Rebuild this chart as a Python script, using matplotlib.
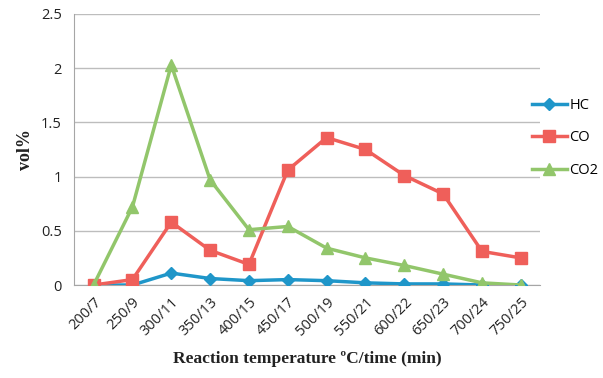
import matplotlib
matplotlib.use("Agg")
import matplotlib.pyplot as plt

categories = ['200/7', '250/9', '300/11', '350/13', '400/15', '450/17',
              '500/19', '550/21', '600/22', '650/23', '700/24', '750/25']
hc = [0, 0, 0.11, 0.06, 0.04, 0.05, 0.04, 0.02, 0.01, 0.01, 0.0, 0.0]
co = [0, 0.05, 0.58, 0.32, 0.19, 1.06, 1.36, 1.25, 1.01, 0.84, 0.31, 0.25]
co2 = [0, 0.72, 2.03, 0.97, 0.51, 0.54, 0.34, 0.25, 0.18, 0.10, 0.02, 0.0]

fig = plt.figure(figsize=(6.03, 3.78), dpi=100)
ax = fig.add_axes([0.123, 0.246, 0.773, 0.717])

x = range(len(categories))
ax.plot(x, hc, color='#1f96c9', lw=2.5, marker='D', ms=6, label='HC', zorder=3)
ax.plot(x, co, color='#ef5f5a', lw=2.5, marker='s', ms=9, label='CO', zorder=4)
ax.plot(x, co2, color='#92c66b', lw=2.5, marker='^', ms=9, label='CO2', zorder=5)

ax.set_xlim(-0.5, len(categories) - 0.5)
ax.set_ylim(0, 2.5)
ax.set_yticks([0, 0.5, 1, 1.5, 2, 2.5])
ax.set_yticklabels(['0', '0.5', '1', '1.5', '2', '2.5'])
ax.set_xticks(list(x))
ax.set_xticklabels(categories, rotation=45, ha='right', rotation_mode='anchor')

ax.grid(axis='y', color='#bdbdbd', lw=1)
ax.set_axisbelow(True)
for s in ['top', 'right']:
    ax.spines[s].set_visible(False)
for s in ['left', 'bottom']:
    ax.spines[s].set_color('#a6a6a6')
ax.tick_params(axis='both', length=0, labelsize=10.5, colors='#222222')
ax.tick_params(axis='x', pad=7)
ax.tick_params(axis='y', pad=9)
for lab in ax.get_xticklabels() + ax.get_yticklabels():
    lab.set_family('Open Sans')

ax.set_xlabel('Reaction temperature ºC/time (min)', family='Liberation Serif',
              fontweight='bold', fontsize=12.5, color='#222222', labelpad=9)
ax.set_ylabel('vol%', family='Liberation Serif', fontweight='bold',
              fontsize=13, color='#222222', labelpad=5)

fig.legend(*ax.get_legend_handles_labels(), loc='center left',
           bbox_to_anchor=(0.86, 0.635), frameon=False,
           handlelength=2.4, labelspacing=1.2, handletextpad=0.2,
           prop={'family': 'Open Sans', 'size': 10.5})

fig.savefig('out.png', dpi=100)
